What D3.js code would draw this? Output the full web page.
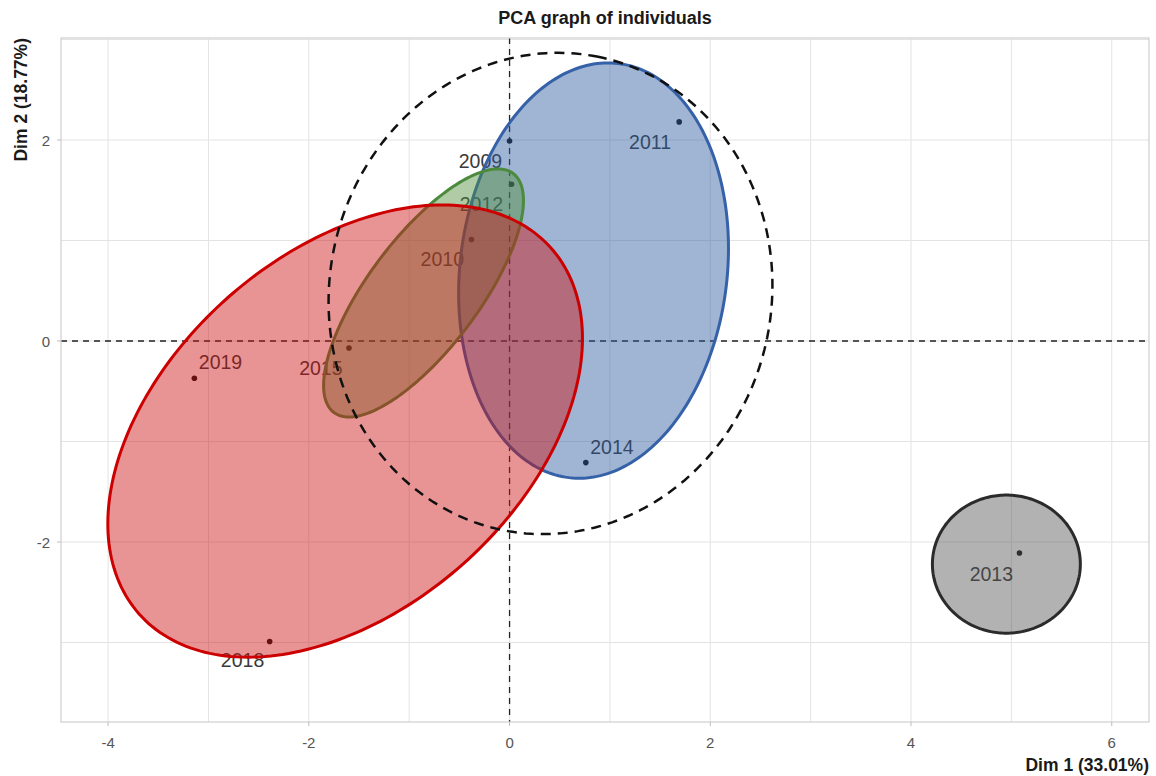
<!DOCTYPE html>
<html>
<head>
<meta charset="utf-8">
<script src="https://cdn.jsdelivr.net/npm/d3@7"></script>
<style>
  html, body { margin: 0; padding: 0; background: #fff; }
  svg text { font-family: "Liberation Sans", Arial, sans-serif; }
</style>
</head>
<body>
<svg id="chart" width="1156" height="776"></svg>
<script>
// ---- data ----
const years  = ["2009", "2010", "2011", "2012", "2013", "2014", "2015", "2018", "2019"];
const dim1   = [0.00, -0.38, 1.69, 0.02, 5.08, 0.76, -1.60, -2.39, -3.14];
const dim2   = [1.99, 1.01, 2.18, 1.56, -2.11, -1.21, -0.07, -2.99, -0.37];
// label anchor (text centre) in data units, as placed by the repel algorithm
const labelX = [-0.29, -0.67, 1.40, -0.28, 4.80, 1.02, -1.88, -2.66, -2.88];
const labelY = [1.79, 0.82, 1.98, 1.36, -2.32, -1.05, -0.27, -3.17, -0.21];

// confidence ellipses (data units): centre, semi-axes, angle of major axis (deg)
const ellName  = ["gray", "blue", "green", "red"];
const ellCx    = [4.95, 0.837, -0.857, -1.638];
const ellCy    = [-2.22, 0.701, 0.478, -0.896];
const ellA     = [0.737, 2.075, 1.487, 2.743];
const ellB     = [0.687, 1.331, 0.551, 1.769];
const ellAngle = [0, 83.2, 53.1, 41.55];
const ellStroke = ["#2b2b2b", "#3561a8", "#4c8a3e", "#cc0000"];
const ellFill   = ["#555555", "#2d5aa0", "#4e8f3a", "#cc1111"];

// overall dashed ellipse
const allEll = { cx: 0.408, cy: 0.473, a: 2.402, b: 2.203, angle: 78.6 };

const xTicks = [-4, -2, 0, 2, 4, 6];
const yTicks = [-2, 0, 2];
const gridX  = [-4, -3, -2, -1, 0, 1, 2, 3, 4, 5, 6];
const gridY  = [-3, -2, -1, 0, 1, 2, 3];

// ---- layout ----
const L = 61, R = 1149, T = 38, B = 722;
const x = d3.scaleLinear().domain([-4.469, 6.371]).range([L, R]);
const y = d3.scaleLinear().domain([-3.791, 3.015]).range([B, T]);

const svg = d3.select("#chart");

// title
svg.append("text").attr("x", 605).attr("y", 24).attr("text-anchor", "middle")
  .attr("font-size", 18).attr("font-weight", "bold").attr("fill", "#1a1a1a")
  .text("PCA graph of individuals");

svg.append("defs").append("clipPath").attr("id", "panel")
  .append("rect").attr("x", L).attr("y", T).attr("width", R - L).attr("height", B - T);

const panel = svg.append("g").attr("clip-path", "url(#panel)");

// grid
panel.selectAll(".gx").data(gridX).join("line")
  .attr("x1", d => x(d)).attr("x2", d => x(d)).attr("y1", T).attr("y2", B)
  .attr("stroke", "#e3e3e3").attr("stroke-width", 1);
panel.selectAll(".gy").data(gridY).join("line")
  .attr("y1", d => y(d)).attr("y2", d => y(d)).attr("x1", L).attr("x2", R)
  .attr("stroke", "#e3e3e3").attr("stroke-width", 1);

// zero lines
panel.append("line").attr("x1", L).attr("x2", R).attr("y1", y(0)).attr("y2", y(0))
  .attr("stroke", "#222").attr("stroke-width", 1.3).attr("stroke-dasharray", "6,5");
panel.append("line").attr("y1", T).attr("y2", B).attr("x1", x(0)).attr("x2", x(0))
  .attr("stroke", "#222").attr("stroke-width", 1.3).attr("stroke-dasharray", "6,5");

// points
panel.selectAll(".pt").data(years).join("circle")
  .attr("cx", (d, i) => x(dim1[i])).attr("cy", (d, i) => y(dim2[i]))
  .attr("r", 2.8).attr("fill", "#111");

// labels
panel.selectAll(".lb").data(years).join("text")
  .attr("x", (d, i) => x(labelX[i])).attr("y", (d, i) => y(labelY[i]))
  .attr("text-anchor", "middle").attr("dominant-baseline", "central")
  .attr("font-size", 19.5).attr("fill", "#3a3a3a")
  .text(d => d);

// ellipses
function ellPoints(cx, cy, a, b, angDeg) {
  const th = angDeg * Math.PI / 180, pts = [];
  for (let k = 0; k <= 240; k++) {
    const t = 2 * Math.PI * k / 240;
    const ex = cx + a * Math.cos(t) * Math.cos(th) - b * Math.sin(t) * Math.sin(th);
    const ey = cy + a * Math.cos(t) * Math.sin(th) + b * Math.sin(t) * Math.cos(th);
    pts.push([ex, ey]);
  }
  return pts;
}
const line = d3.line().x(d => x(d[0])).y(d => y(d[1])).curve(d3.curveLinearClosed);

ellName.forEach((n, i) => {
  panel.append("path")
    .attr("d", line(ellPoints(ellCx[i], ellCy[i], ellA[i], ellB[i], ellAngle[i])))
    .attr("fill", ellFill[i]).attr("fill-opacity", 0.45)
    .attr("stroke", ellStroke[i]).attr("stroke-width", 3);
});

panel.append("path")
  .attr("d", line(ellPoints(allEll.cx, allEll.cy, allEll.a, allEll.b, allEll.angle)))
  .attr("fill", "none").attr("stroke", "#111").attr("stroke-width", 2.5)
  .attr("stroke-dasharray", "10,7");

// panel border
svg.append("rect").attr("x", L).attr("y", T).attr("width", R - L).attr("height", B - T)
  .attr("fill", "none").attr("stroke", "#cfcfcf").attr("stroke-width", 1.2);

// axes ticks
svg.selectAll(".xt").data(xTicks).join("line")
  .attr("x1", d => x(d)).attr("x2", d => x(d)).attr("y1", B).attr("y2", B + 4)
  .attr("stroke", "#bdbdbd");
svg.selectAll(".xtl").data(xTicks).join("text")
  .attr("x", d => x(d)).attr("y", B + 26).attr("text-anchor", "middle")
  .attr("font-size", 15).attr("fill", "#555").text(d => d);

svg.selectAll(".yt").data(yTicks).join("line")
  .attr("y1", d => y(d)).attr("y2", d => y(d)).attr("x1", L - 4).attr("x2", L)
  .attr("stroke", "#bdbdbd");
svg.selectAll(".ytl").data(yTicks).join("text")
  .attr("x", L - 11).attr("y", d => y(d)).attr("text-anchor", "end")
  .attr("dominant-baseline", "central")
  .attr("font-size", 15).attr("fill", "#555").text(d => d);

// axis titles
svg.append("text").attr("x", R).attr("y", 771).attr("text-anchor", "end")
  .attr("font-size", 17.5).attr("font-weight", "bold").attr("fill", "#1a1a1a")
  .text("Dim 1 (33.01%)");
svg.append("text").attr("transform", `translate(27, ${T}) rotate(-90)`)
  .attr("text-anchor", "end")
  .attr("font-size", 17.5).attr("font-weight", "bold").attr("fill", "#1a1a1a")
  .text("Dim 2 (18.77%)");
</script>
</body>
</html>
